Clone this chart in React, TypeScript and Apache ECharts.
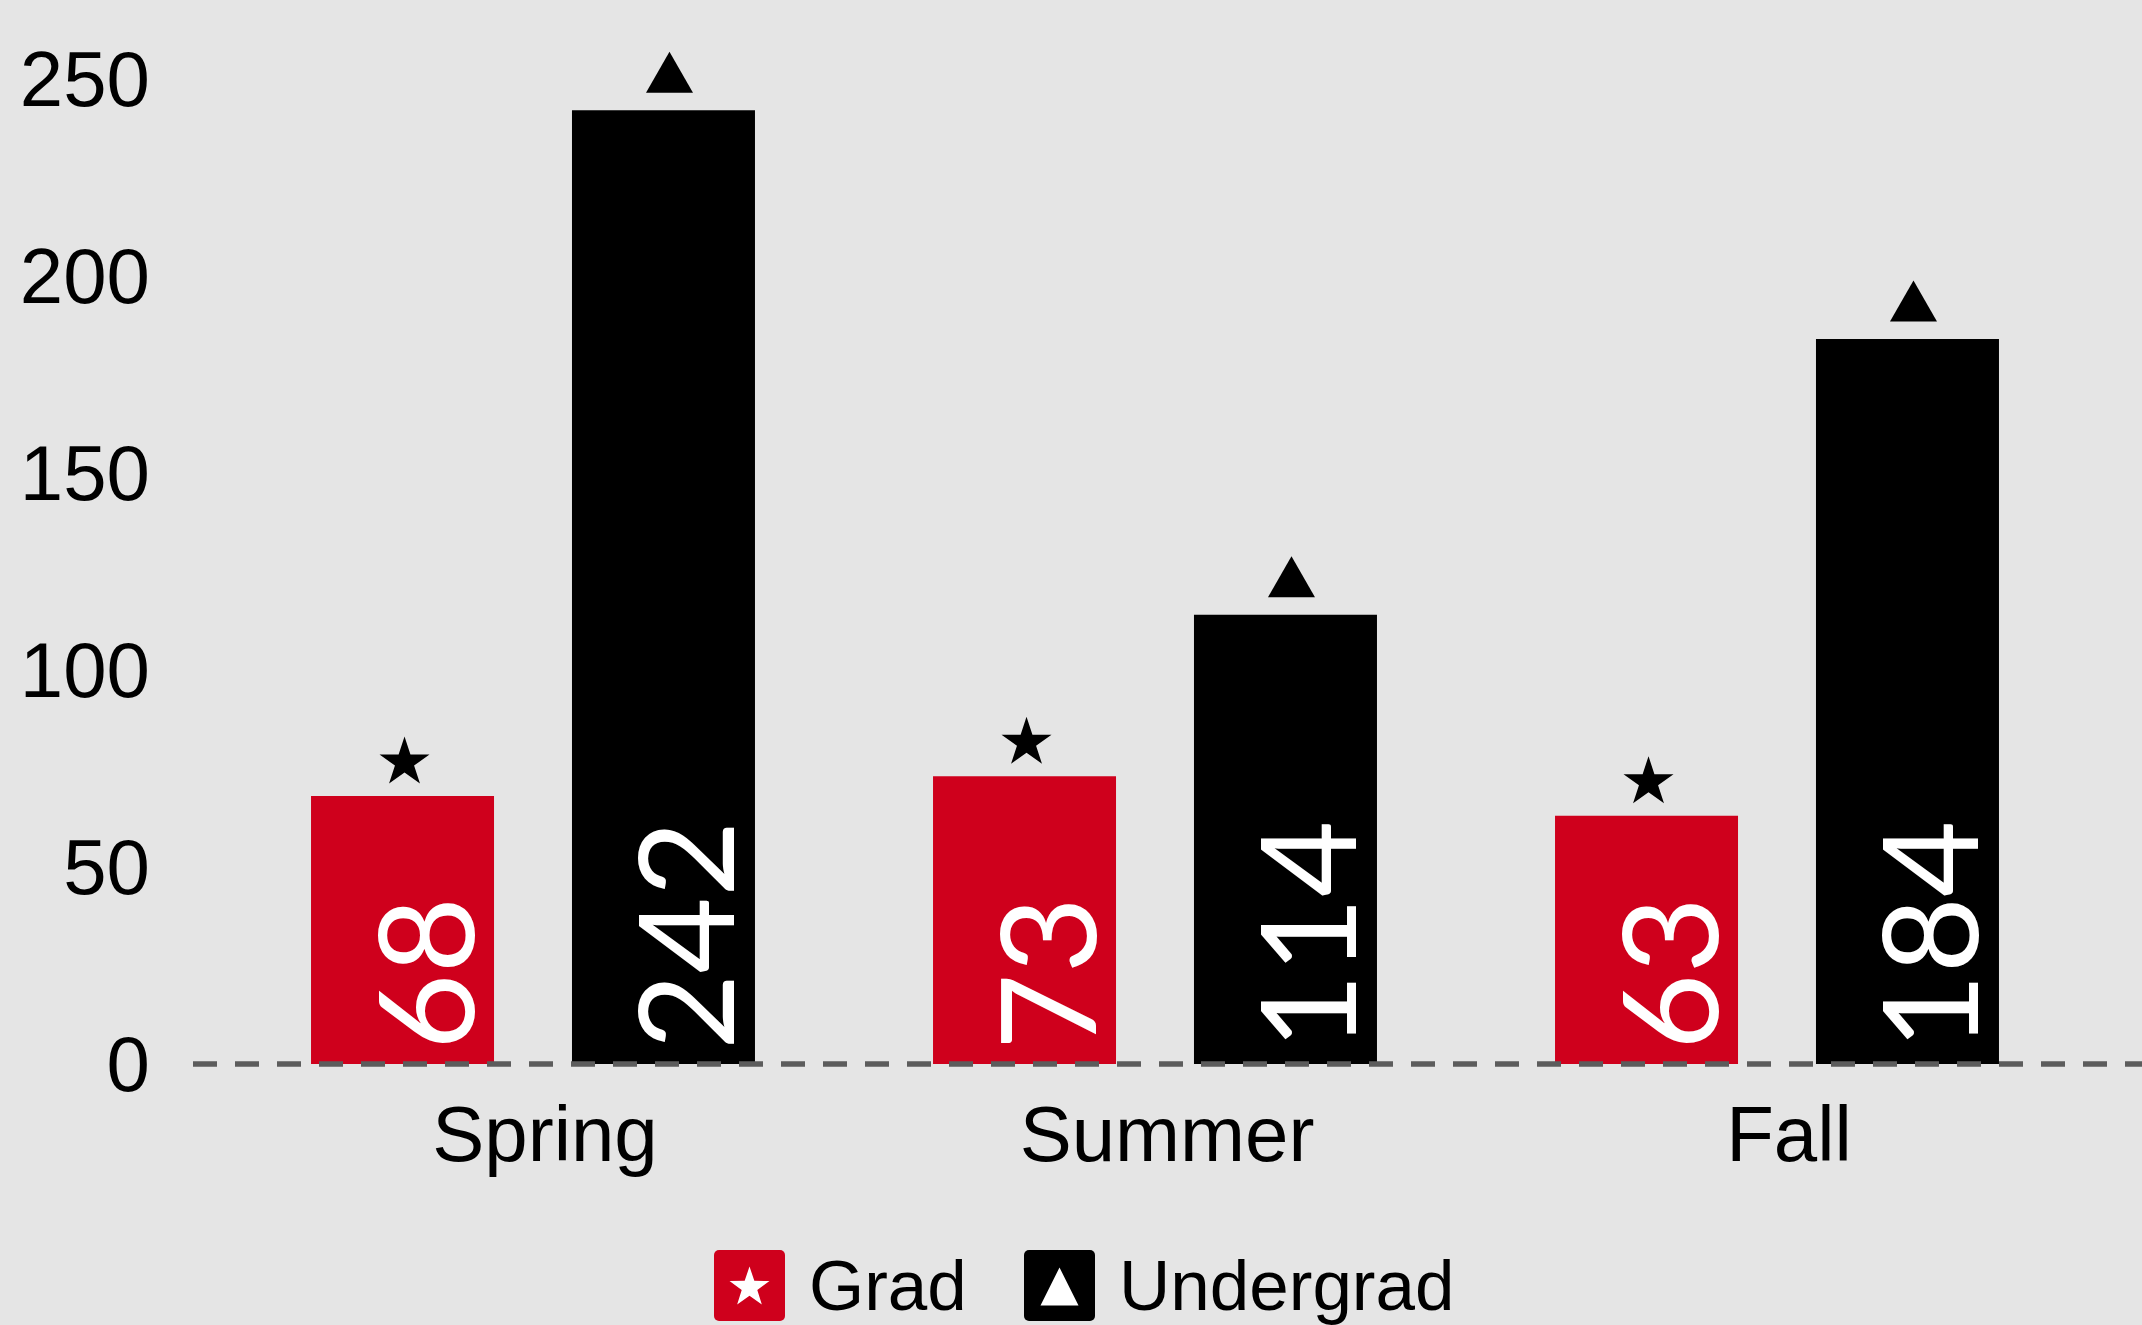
import React, { useEffect, useRef } from "react";
import * as echarts from "echarts";

// ---- data ----
const categories = ["Spring", "Summer", "Fall"];
const seriesNames = ["Grad", "Undergrad"];
const gradValues = [68, 73, 63];
const undergradValues = [242, 114, 184];
const yTicks = [0, 50, 100, 150, 200, 250];

// ---- style ----
const WIDTH = 2142;
const HEIGHT = 1325;
const RED = "#cf001c";
const BLACK = "#000000";
const BG = "#e5e5e5";
const AXIS_FONT = "'Liberation Sans', Arial, sans-serif";
const VALUE_FONT = "Lato, 'Liberation Sans', sans-serif";

function starPoints(cx: number, cy: number, R: number, r: number): number[][] {
  const pts: number[][] = [];
  for (let k = 0; k < 10; k++) {
    const rad = k % 2 === 0 ? R : r;
    const a = -Math.PI / 2 + (k * Math.PI) / 5;
    pts.push([cx + rad * Math.cos(a), cy + rad * Math.sin(a)]);
  }
  return pts;
}

const STAR_SYMBOL =
  "path://M" +
  starPoints(50, 50, 50, 19.1)
    .map((p) => p[0].toFixed(2) + "," + p[1].toFixed(2))
    .join("L") +
  "Z";

const ROUND_RECT =
  "path://M5,0H66A5,5,0,0,1,71,5V66A5,5,0,0,1,66,71H5A5,5,0,0,1,0,66V5A5,5,0,0,1,5,0Z";

export default function App() {
  const ref = useRef<HTMLDivElement>(null);

  useEffect(() => {
    document.body.style.margin = "0";
    if (!ref.current) return;
    const chart = echarts.init(ref.current, null, {
      renderer: "svg",
      width: WIDTH,
      height: HEIGHT,
    });

    const gridLeft = 222;
    const legendTop = 1250;
    const legendSize = 71;
    const legendLeft = [714, 1024];

    const valueLabel = {
      show: true,
      position: "insideBottom",
      rotate: 90,
      align: "left",
      verticalAlign: "middle",
      distance: 14,
      offset: [0, 20],
      color: "#ffffff",
      fontSize: 132,
      fontFamily: VALUE_FONT,
    };

    const legendText = {
      fontSize: 71,
      lineHeight: 71,
      color: "#000",
      padding: [0, 0, 0, 19],
      fontFamily: AXIS_FONT,
    };

    const option: any = {
      animation: false,
      backgroundColor: BG,
      textStyle: { fontFamily: AXIS_FONT },
      grid: { left: gridLeft, right: 54, top: 0, bottom: 261, containLabel: false },
      legend: [
        {
          data: [seriesNames[0]],
          left: legendLeft[0],
          top: legendTop,
          itemWidth: legendSize,
          itemHeight: legendSize,
          icon: ROUND_RECT,
          padding: 0,
          textStyle: legendText,
          selectedMode: false,
        },
        {
          data: [seriesNames[1]],
          left: legendLeft[1],
          top: legendTop,
          itemWidth: legendSize,
          itemHeight: legendSize,
          icon: ROUND_RECT,
          padding: 0,
          textStyle: legendText,
          selectedMode: false,
        },
      ],
      xAxis: {
        type: "category",
        data: categories,
        axisLine: { show: false },
        axisTick: { show: false },
        splitLine: { show: false },
        axisLabel: {
          fontSize: 78,
          color: "#000",
          margin: 31,
          padding: [0, 0, 0, 24],
          fontFamily: AXIS_FONT,
        },
      },
      yAxis: {
        type: "value",
        min: 0,
        max: 270,
        interval: 50,
        axisLine: { show: false },
        axisTick: { show: false },
        splitLine: { show: false },
        axisLabel: {
          fontSize: 78,
          color: "#000",
          margin: 72,
          fontFamily: AXIS_FONT,
          formatter: (v: number) => (yTicks.includes(v) ? String(v) : ""),
        },
      },
      series: [
        {
          name: seriesNames[0],
          type: "bar",
          data: gradValues,
          barWidth: 183,
          barGap: "42.6%",
          itemStyle: { color: RED },
          label: valueLabel,
          markPoint: {
            symbol: STAR_SYMBOL,
            symbolSize: [50, 47],
            symbolOffset: [2, -36],
            itemStyle: { color: BLACK },
            label: { show: false },
            data: gradValues.map((v, i) => ({ coord: [i, v] })),
          },
        },
        {
          name: seriesNames[1],
          type: "bar",
          data: undergradValues,
          barWidth: 183,
          barGap: "42.6%",
          itemStyle: { color: BLACK },
          label: valueLabel,
          markPoint: {
            symbol: "triangle",
            symbolSize: [47, 41],
            symbolOffset: [6, -38],
            itemStyle: { color: BLACK },
            label: { show: false },
            data: undergradValues.map((v, i) => ({ coord: [i, v] })),
          },
        },
      ],
    };

    chart.setOption(option);

    const y0 = chart.convertToPixel({ yAxisIndex: 0 }, 0) as number;
    const iconCY = legendTop + legendSize / 2 + 1;
    const starCX = legendLeft[0] + legendSize / 2;
    const triCX = legendLeft[1] + legendSize / 2;

    chart.setOption({
      graphic: [
        {
          type: "line",
          z: 3,
          silent: true,
          shape: { x1: 193, y1: y0, x2: WIDTH, y2: y0 },
          style: { stroke: "#5c5c5c", lineWidth: 5.5, lineDash: [24, 18] },
        },
        {
          type: "polygon",
          z: 10,
          silent: true,
          shape: { points: starPoints(starCX, iconCY + 1, 21, 8.2) },
          style: { fill: "#ffffff" },
        },
        {
          type: "polygon",
          z: 10,
          silent: true,
          shape: {
            points: [
              [triCX, iconCY - 19],
              [triCX + 19, iconCY + 19],
              [triCX - 19, iconCY + 19],
            ],
          },
          style: { fill: "#ffffff" },
        },
      ],
    });

    return () => chart.dispose();
  }, []);

  return <div ref={ref} style={{ width: WIDTH, height: HEIGHT }} />;
}
